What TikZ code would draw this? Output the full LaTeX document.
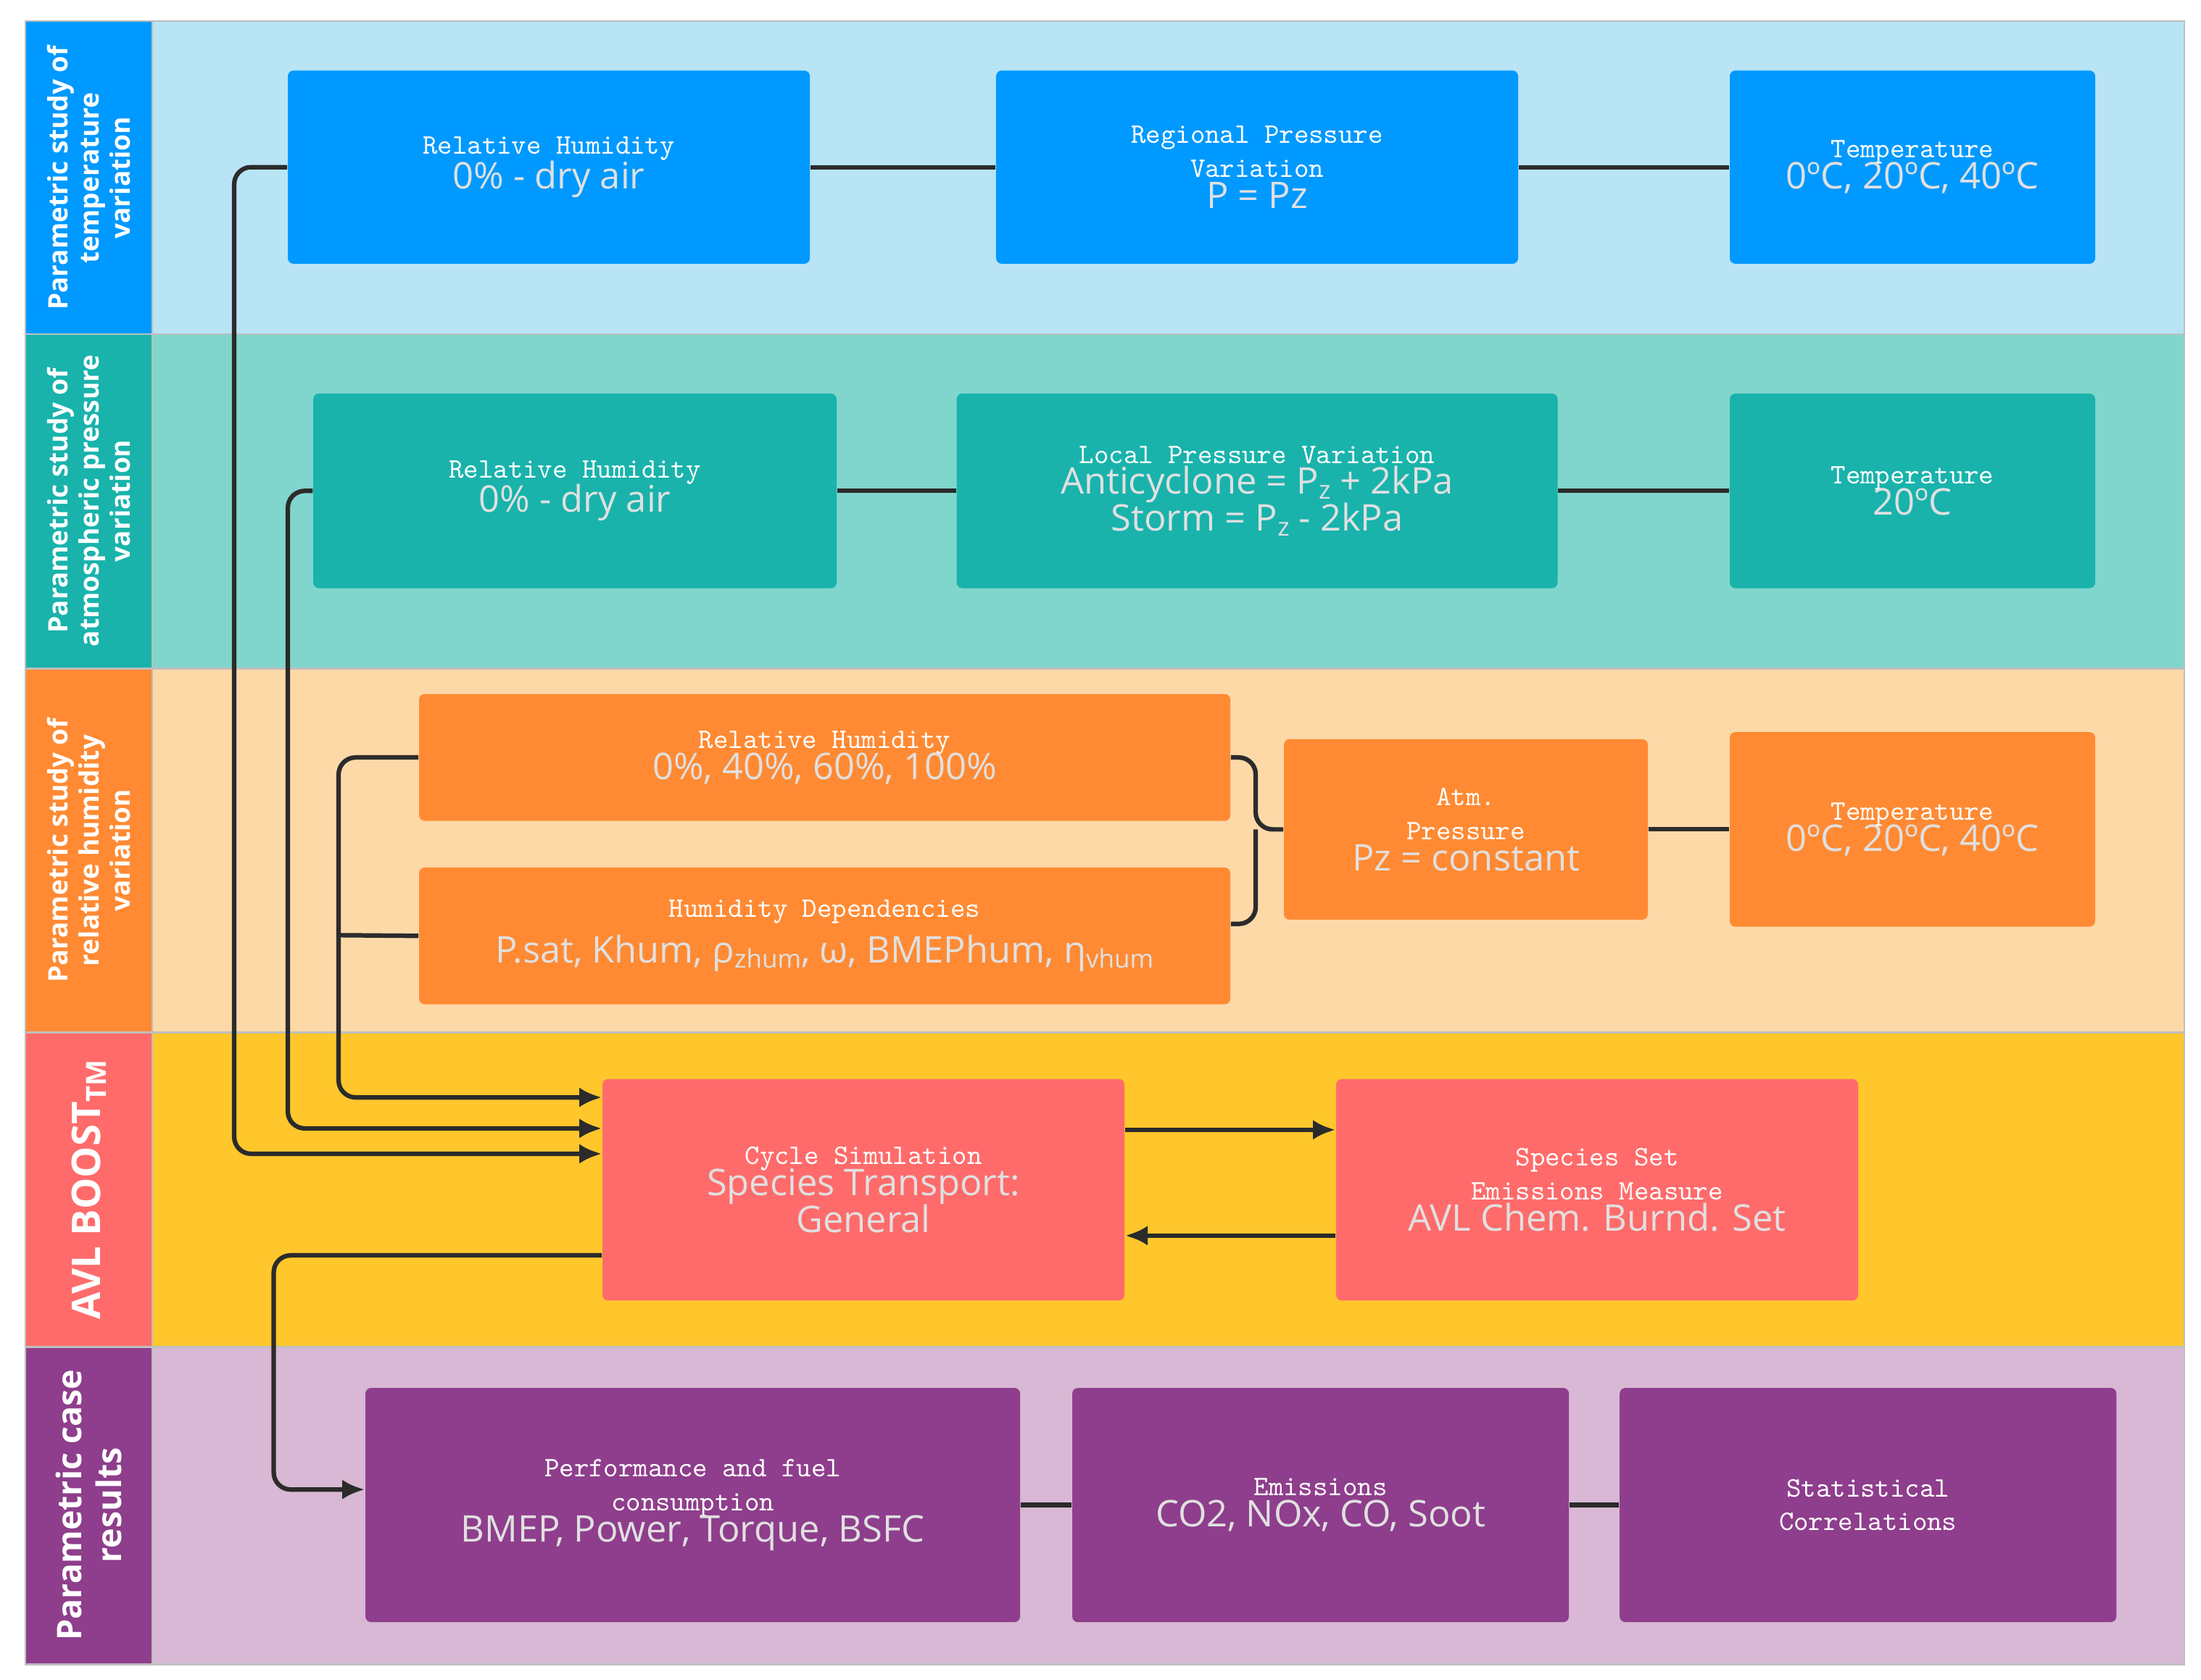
\documentclass[tikz,border=0pt]{standalone}
\usepackage{fontspec}
\setmainfont{Open Sans}
\usetikzlibrary{arrows.meta}
\definecolor{bA}{HTML}{0099FF}\definecolor{bB}{HTML}{B8E4F5}
\definecolor{tA}{HTML}{19B3AC}\definecolor{tB}{HTML}{80D6CC}
\definecolor{oA}{HTML}{FF8A33}\definecolor{oB}{HTML}{FDD9A8}
\definecolor{rA}{HTML}{FF6B6B}\definecolor{yB}{HTML}{FFC72C}
\definecolor{pA}{HTML}{8E3E8C}\definecolor{pB}{HTML}{D8B8D4}
\definecolor{ln}{HTML}{2B2B2B}
\newcommand{\sbx}[1]{\raisebox{-0.25ex}{\fontsize{9}{9}\selectfont #1}}
\tikzset{
 box/.style={draw=none,rounded corners=2pt,align=center,text=white,inner sep=0pt},
 tt/.style={font=\bfseries\fontsize{16}{20}\selectfont},
 band/.style={draw=gray!50,line width=0.6pt},
 lab/.style={rotate=90,align=center,text=white,font=\bfseries\fontsize{9.5}{11}\selectfont},
 con/.style={draw=ln,line width=1.6pt,rounded corners=6pt},
 arr/.style={con,-{Latex[length=8pt,width=7pt]}}
}
\newcommand{\bx}[7]{\node[box,fill=#5,minimum width={(#3-#1)*0.5pt},minimum height={(#4-#2)*0.5pt}] (#6) at ({(#1+#3)/2},{(#2+#4)/2}) {#7};}
\newcommand{\sub}[1]{\\[-1pt]{\fontsize{13}{16}\selectfont\color{white!88!black}#1}}
\begin{document}
\begin{tikzpicture}[x=0.5pt,y=-0.5pt]
\useasboundingbox (0,0) rectangle (1560,1191);
\fill[white] (0,0) rectangle (1560,1191);
% bands
\filldraw[band,fill=bB] (108,15) rectangle (1548,237);
\filldraw[band,fill=tB] (108,237) rectangle (1548,474);
\filldraw[band,fill=oB] (108,474) rectangle (1548,732);
\filldraw[band,fill=yB] (108,732) rectangle (1548,955);
\filldraw[band,fill=pB] (108,955) rectangle (1548,1180);
\filldraw[band,fill=bA] (18,15) rectangle (108,237);
\filldraw[band,fill=tA] (18,237) rectangle (108,474);
\filldraw[band,fill=oA] (18,474) rectangle (108,732);
\filldraw[band,fill=rA] (18,732) rectangle (108,955);
\filldraw[band,fill=pA] (18,955) rectangle (108,1180);
\node[lab] (l1) at (63,126) {Parametric study of\\temperature\\variation};
\node[lab] (l2) at (63,355) {Parametric study of\\atmospheric pressure\\variation};
\node[lab] (l3) at (63,603) {Parametric study of\\relative humidity\\variation};
\node[lab,font=\bfseries\fontsize{14}{16}\selectfont] (l4) at (63,843) {AVL BOOST\textsubscript{TM}};
\node[lab,font=\bfseries\fontsize{12}{14}\selectfont] (l5) at (63,1067) {Parametric case\\results};
% boxes
\bx{204}{50}{574}{187}{bA}{b1}{\tt Relative Humidity\sub{0\% - dry air}}
\bx{706}{50}{1076}{187}{bA}{b2}{\tt Regional Pressure\\\tt Variation\sub{P = Pz}}
\bx{1226}{50}{1485}{187}{bA}{b3}{\tt Temperature\sub{0ºC, 20ºC, 40ºC}}
\bx{222}{279}{593}{417}{tA}{t1}{\tt Relative Humidity\sub{0\% - dry air}}
\bx{678}{279}{1104}{417}{tA}{t2}{\tt Local Pressure Variation\sub{Anticyclone = P\sbx{z} + 2kPa}\sub{Storm = P\sbx{z} - 2kPa}}
\bx{1226}{279}{1485}{417}{tA}{t3}{\tt Temperature\sub{20ºC}}
\bx{297}{492}{872}{582}{oA}{o1}{\tt Relative Humidity\sub{0\%, 40\%, 60\%, 100\%}}
\bx{297}{615}{872}{712}{oA}{o2}{\tt Humidity Dependencies\\[3pt]{\fontsize{13}{16}\selectfont\color{white!88!black}P.sat, Khum, ρ\sbx{zhum}, ω, BMEPhum, η\sbx{vhum}}}
\bx{910}{524}{1168}{652}{oA}{o3}{\tt Atm.\\\tt Pressure\sub{Pz = constant}}
\bx{1226}{519}{1485}{657}{oA}{o4}{\tt Temperature\sub{0ºC, 20ºC, 40ºC}}
\bx{427}{765}{797}{922}{rA}{c1}{\tt Cycle Simulation\sub{Species Transport:}\sub{General}}
\bx{947}{765}{1317}{922}{rA}{c2}{\tt Species Set\\\tt Emissions Measure\sub{AVL Chem. Burnd. Set}}
\bx{259}{984}{723}{1150}{pA}{p1}{\tt Performance and fuel\\\tt consumption\sub{BMEP, Power, Torque, BSFC}}
\bx{760}{984}{1112}{1150}{pA}{p2}{\tt Emissions\sub{CO2, NOx, CO, Soot}}
\bx{1148}{984}{1500}{1150}{pA}{p3}{\tt Statistical\\\tt Correlations}
% connectors
\draw[con] (b1) -- (b2); \draw[con] (b2) -- (b3);
\draw[con] (t1) -- (t2); \draw[con] (t2) -- (t3);
\draw[con] (o3) -- (o4);
\draw[con] (p1.east|-0,1067) -- (p2.west|-0,1067);
\draw[con] (p2.east|-0,1067) -- (p3.west|-0,1067);
\draw[arr] (b1.west) -| (166,818) -- (c1.west|-0,818);
\draw[arr] (t1.west) -| (204,800) -- (c1.west|-0,800);
\draw[arr] (o1.west) -| (240,778) -- (c1.west|-0,778);
\draw[con] (o2.west) -- (240,663);
\draw[con] (o1.east) -| (890,588) -- (o3.west);
\draw[con] (o2.east|-0,655) -| (890,588);
\draw[arr] (c1.east|-0,801) -- (c2.west|-0,801);
\draw[arr] (c2.west|-0,876) -- (c1.east|-0,876);
\draw[arr] (c1.west|-0,890) -| (194,1056) -- (p1.west|-0,1056);
\end{tikzpicture}
\end{document}
